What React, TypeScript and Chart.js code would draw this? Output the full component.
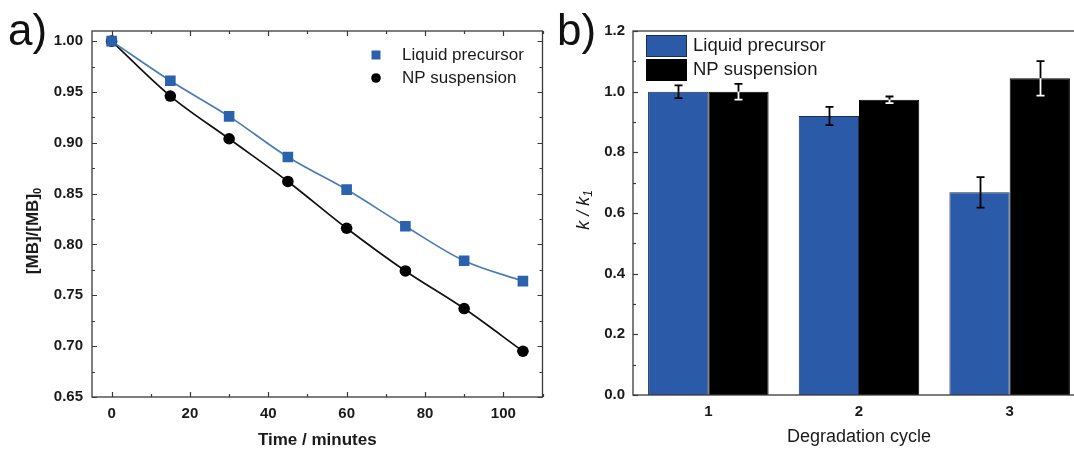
import React, { useEffect, useRef } from 'react';
import { Chart, registerables } from 'chart.js';

Chart.register(...registerables);

// ---------- Panel a) data ----------
const timeMinutes = [0, 15, 30, 45, 60, 75, 90, 105];
const liquidPrecursorRatio = [1.0, 0.961, 0.926, 0.886, 0.854, 0.818, 0.784, 0.764];
const npSuspensionRatio = [1.0, 0.946, 0.904, 0.862, 0.816, 0.774, 0.737, 0.695];
const timeTicks = [0, 20, 40, 60, 80, 100];
const ratioTicks = [0.65, 0.7, 0.75, 0.8, 0.85, 0.9, 0.95, 1.0];

// ---------- Panel b) data ----------
const cycles = ['1', '2', '3'];
const liquidK = [1.0, 0.92, 0.668];
const liquidKErr = [0.021, 0.03, 0.05];
const npK = [1.0, 0.973, 1.044];
const npKErr = [0.026, 0.011, 0.057];
const kTicks = [0, 0.2, 0.4, 0.6, 0.8, 1.0, 1.2];

const seriesNames = ['Liquid precursor', 'NP suspension'];

const FONT = '"Liberation Sans", Arial, Helvetica, sans-serif';
const TEXT = '#1a1a1a';
const AXIS = '#3a3a3a';
const BLUE_MARK = '#2a62ad';
const BLUE_LINE = '#4a7db5';
const BLUE_BAR = '#2b5ba8';

function midpoints(arr: number[]) {
  const out: number[] = [];
  for (let i = 0; i < arr.length - 1; i++) out.push((arr[i] + arr[i + 1]) / 2);
  return out;
}

const leftDecor = {
  id: 'leftDecor',
  afterDraw(chart: any) {
    const { ctx, chartArea: a, scales } = chart;
    const xs = scales.x;
    const ys = scales.y;
    ctx.save();
    // frame
    ctx.strokeStyle = AXIS;
    ctx.lineWidth = 1.3;
    ctx.strokeRect(a.left, a.top, a.right - a.left, a.bottom - a.top);
    ctx.lineWidth = 1.2;
    const drawX = (v: number, len: number) => {
      const px = Math.round(xs.getPixelForValue(v)) + 0.5;
      ctx.beginPath();
      ctx.moveTo(px, a.bottom);
      ctx.lineTo(px, a.bottom - len);
      ctx.moveTo(px, a.top);
      ctx.lineTo(px, a.top + len);
      ctx.stroke();
    };
    timeTicks.forEach((v) => drawX(v, 5));
    midpoints(timeTicks).forEach((v) => drawX(v, 3));
    drawX(timeTicks[timeTicks.length - 1] + 10, 3);
    const drawY = (v: number, len: number) => {
      const py = Math.round(ys.getPixelForValue(v)) + 0.5;
      ctx.beginPath();
      ctx.moveTo(a.left, py);
      ctx.lineTo(a.left + len, py);
      ctx.moveTo(a.right, py);
      ctx.lineTo(a.right - len, py);
      ctx.stroke();
    };
    ratioTicks.forEach((v) => drawY(v, 5));
    midpoints(ratioTicks).forEach((v) => drawY(v, 3));

    // legend
    const lx = 376;
    const rows = [55, 78];
    ctx.fillStyle = BLUE_MARK;
    ctx.fillRect(lx - 4.5, rows[0] - 4.5, 9, 9);
    ctx.fillStyle = '#000';
    ctx.beginPath();
    ctx.arc(lx, rows[1], 4.8, 0, Math.PI * 2);
    ctx.fill();
    ctx.fillStyle = TEXT;
    ctx.font = `17px ${FONT}`;
    ctx.textAlign = 'left';
    ctx.textBaseline = 'middle';
    ctx.fillText(seriesNames[0], 402, rows[0]);
    ctx.fillText(seriesNames[1], 402, rows[1]);

    // x title
    ctx.font = `bold 17px ${FONT}`;
    ctx.textAlign = 'center';
    ctx.fillText('Time / minutes', (a.left + a.right) / 2, 440);

    // y title with subscript
    ctx.save();
    ctx.translate(33, 231);
    ctx.rotate(-Math.PI / 2);
    const main = '[MB]/[MB]';
    ctx.font = `bold 17px ${FONT}`;
    const w1 = ctx.measureText(main).width;
    ctx.font = `bold 11px ${FONT}`;
    const w2 = ctx.measureText('0').width;
    const start = -(w1 + w2) / 2;
    ctx.textAlign = 'left';
    ctx.textBaseline = 'middle';
    ctx.font = `bold 17px ${FONT}`;
    ctx.fillText(main, start, 0);
    ctx.font = `bold 11px ${FONT}`;
    ctx.fillText('0', start + w1, 5);
    ctx.restore();

    // panel label
    ctx.font = `44px ${FONT}`;
    ctx.textAlign = 'left';
    ctx.textBaseline = 'alphabetic';
    ctx.fillStyle = '#111';
    ctx.fillText('a)', 8, 45);
    ctx.restore();
  },
};

const rightDecor = {
  id: 'rightDecor',
  afterDatasetsDraw(chart: any) {
    const { ctx, scales } = chart;
    const ys = scales.y;
    const errs = [liquidKErr, npKErr];
    const vals = [liquidK, npK];
    ctx.save();
    ctx.lineWidth = 1.8;
    [0, 1].forEach((di) => {
      const meta = chart.getDatasetMeta(di);
      meta.data.forEach((bar: any, i: number) => {
        const x = Math.round(bar.x) + 0.5;
        const top = ys.getPixelForValue(vals[di][i] + errs[di][i]);
        const mid = ys.getPixelForValue(vals[di][i]);
        const bot = ys.getPixelForValue(vals[di][i] - errs[di][i]);
        const cap = 4;
        ctx.strokeStyle = '#000';
        ctx.beginPath();
        ctx.moveTo(x, top);
        ctx.lineTo(x, mid);
        ctx.moveTo(x - cap, top);
        ctx.lineTo(x + cap, top);
        ctx.stroke();
        ctx.strokeStyle = di === 1 ? '#ffffff' : '#000';
        ctx.beginPath();
        ctx.moveTo(x, mid);
        ctx.lineTo(x, bot);
        ctx.moveTo(x - cap, bot);
        ctx.lineTo(x + cap, bot);
        ctx.stroke();
      });
    });
    ctx.restore();
  },
  afterDraw(chart: any) {
    const { ctx, chartArea: a, scales } = chart;
    const ys = scales.y;
    ctx.save();
    ctx.strokeStyle = AXIS;
    ctx.lineWidth = 1.3;
    ctx.strokeRect(a.left, a.top, a.right - a.left, a.bottom - a.top);
    ctx.lineWidth = 1.2;
    const drawY = (v: number, len: number) => {
      const py = Math.round(ys.getPixelForValue(v)) + 0.5;
      ctx.beginPath();
      ctx.moveTo(a.left, py);
      ctx.lineTo(a.left + len, py);
      ctx.stroke();
    };
    kTicks.forEach((v) => drawY(v, 5));
    midpoints(kTicks).forEach((v) => drawY(v, 3));

    // legend
    const bx = 106;
    const rows = [35, 59];
    ctx.fillStyle = BLUE_BAR;
    ctx.fillRect(bx, rows[0], 41, 22);
    ctx.strokeStyle = '#1b2f55';
    ctx.lineWidth = 1;
    ctx.strokeRect(bx + 0.5, rows[0] + 0.5, 40, 21);
    ctx.fillStyle = '#000';
    ctx.fillRect(bx, rows[1], 41, 22);
    ctx.fillStyle = TEXT;
    ctx.font = `18.5px ${FONT}`;
    ctx.textAlign = 'left';
    ctx.textBaseline = 'middle';
    ctx.fillText(seriesNames[0], 153, rows[0] + 11);
    ctx.fillText(seriesNames[1], 153, rows[1] + 11);

    // x title
    ctx.font = `18px ${FONT}`;
    ctx.textAlign = 'center';
    ctx.fillText('Degradation cycle', (a.left + a.right) / 2, 437);

    // y title: k / k1 (italic, subscript)
    ctx.save();
    ctx.translate(44, 210);
    ctx.rotate(-Math.PI / 2);
    ctx.font = `italic 18px ${FONT}`;
    const main = 'k / k';
    const w1 = ctx.measureText(main).width;
    ctx.font = `italic 12px ${FONT}`;
    const w2 = ctx.measureText('1').width;
    const start = -(w1 + w2) / 2;
    ctx.textAlign = 'left';
    ctx.font = `italic 18px ${FONT}`;
    ctx.fillText(main, start, 0);
    ctx.font = `italic 12px ${FONT}`;
    ctx.fillText('1', start + w1, 5);
    ctx.restore();

    // panel label
    ctx.font = `44px ${FONT}`;
    ctx.textAlign = 'left';
    ctx.textBaseline = 'alphabetic';
    ctx.fillStyle = '#111';
    ctx.fillText('b)', 17, 45);
    ctx.restore();
  },
};

export default function App() {
  const leftRef = useRef<HTMLCanvasElement>(null);
  const rightRef = useRef<HTMLCanvasElement>(null);

  useEffect(() => {
    const tickFont = { family: FONT, size: 15, weight: 'bold' };
    const left = new Chart(leftRef.current as HTMLCanvasElement, {
      type: 'scatter',
      data: {
        datasets: [
          {
            label: seriesNames[0],
            data: timeMinutes.map((t, i) => ({ x: t, y: liquidPrecursorRatio[i] })),
            showLine: true,
            borderColor: BLUE_LINE,
            borderWidth: 1.7,
            pointStyle: 'rect',
            pointRadius: 7.5,
            pointBackgroundColor: BLUE_MARK,
            pointBorderColor: BLUE_MARK,
            pointBorderWidth: 0,
            cubicInterpolationMode: 'monotone',
          },
          {
            label: seriesNames[1],
            data: timeMinutes.map((t, i) => ({ x: t, y: npSuspensionRatio[i] })),
            showLine: true,
            borderColor: '#111',
            borderWidth: 1.7,
            pointStyle: 'circle',
            pointRadius: 5.8,
            pointBackgroundColor: '#000',
            pointBorderColor: '#000',
            pointBorderWidth: 0,
            cubicInterpolationMode: 'monotone',
          },
        ],
      },
      options: {
        animation: false,
        responsive: false,
        events: [],
        layout: { padding: { top: 31, right: 5, left: 0, bottom: 0 } },
        plugins: { legend: { display: false }, tooltip: { enabled: false } },
        scales: {
          x: {
            type: 'linear',
            min: -5,
            max: 110,
            afterBuildTicks: (s: any) => { s.ticks = timeTicks.map((v) => ({ value: v })); },
            afterFit: (s: any) => { s.height = 52; },
            grid: { display: false, drawTicks: false },
            border: { display: false },
            ticks: { padding: 8, font: tickFont, color: TEXT, maxRotation: 0 },
          },
          y: {
            type: 'linear',
            min: 0.65,
            max: 1.01,
            afterBuildTicks: (s: any) => { s.ticks = ratioTicks.map((v) => ({ value: v })); },
            afterFit: (s: any) => { s.width = 92; },
            grid: { display: false, drawTicks: false },
            border: { display: false },
            ticks: { padding: 9, font: tickFont, color: TEXT, callback: (v: any) => Number(v).toFixed(2) },
          },
        },
      } as any,
      plugins: [leftDecor],
    });

    const right = new Chart(rightRef.current as HTMLCanvasElement, {
      type: 'bar',
      data: {
        labels: cycles,
        datasets: [
          {
            label: seriesNames[0],
            data: liquidK,
            backgroundColor: BLUE_BAR,
            borderColor: '#1b2f55',
            borderWidth: 1,
            categoryPercentage: 0.8,
            barPercentage: 1.0,
          },
          {
            label: seriesNames[1],
            data: npK,
            backgroundColor: '#000',
            borderColor: '#000',
            borderWidth: 1,
            categoryPercentage: 0.8,
            barPercentage: 1.0,
          },
        ],
      },
      options: {
        animation: false,
        responsive: false,
        events: [],
        layout: { padding: { top: 31, right: 15, left: 0, bottom: 0 } },
        plugins: { legend: { display: false }, tooltip: { enabled: false } },
        scales: {
          x: {
            afterFit: (s: any) => { s.height = 54; },
            grid: { display: false, drawTicks: false },
            border: { display: false },
            ticks: { padding: 8, font: tickFont, color: TEXT },
          },
          y: {
            type: 'linear',
            min: 0,
            max: 1.2,
            afterBuildTicks: (s: any) => { s.ticks = kTicks.map((v) => ({ value: v })); },
            afterFit: (s: any) => { s.width = 93; },
            grid: { display: false, drawTicks: false },
            border: { display: false },
            ticks: { padding: 8, font: tickFont, color: TEXT, callback: (v: any) => Number(v).toFixed(1) },
          },
        },
      } as any,
      plugins: [rightDecor],
    });

    return () => {
      left.destroy();
      right.destroy();
    };
  }, []);

  return (
    <div
      style={{
        position: 'fixed',
        left: 0,
        top: 0,
        width: 1074,
        height: 449,
        overflow: 'hidden',
        background: '#ffffff',
      }}
    >
      <canvas ref={leftRef} width={550} height={449} style={{ position: 'absolute', left: 0, top: 0 }} />
      <canvas ref={rightRef} width={560} height={449} style={{ position: 'absolute', left: 540, top: 0 }} />
    </div>
  );
}
